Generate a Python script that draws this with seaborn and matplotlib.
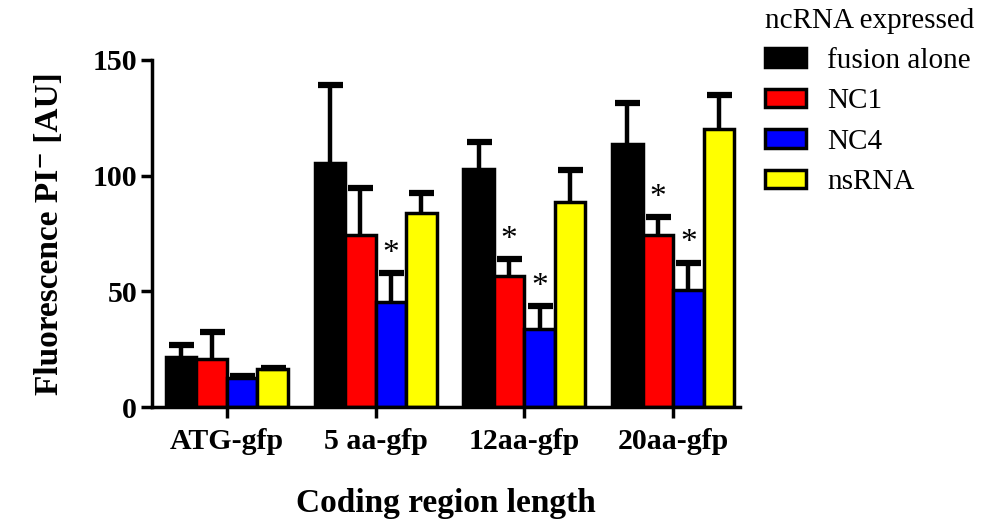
import numpy as np
import pandas as pd
import matplotlib
matplotlib.use("Agg")
import matplotlib.pyplot as plt
import seaborn as sns

# Coding region constructs and the ncRNA co-expressed with each fusion
groups = ["ATG-gfp", "5 aa-gfp", "12aa-gfp", "20aa-gfp"]
rnas = ["fusion alone", "NC1", "NC4", "nsRNA"]
colors = ["#000000", "#ff0000", "#0000ff", "#ffff00"]

# Mean fluorescence per construct (rows follow rnas, columns follow groups)
fusion_alone = [21.7, 105.3, 102.9, 113.7]
nc1 = [20.6, 74.3, 56.6, 74.3]
nc4 = [12.4, 45.5, 33.7, 50.8]
nsrna = [16.4, 83.7, 88.5, 120.0]

# Upper error (SD) for each bar
fusion_alone_err = [5.1, 33.8, 11.8, 17.5]
nc1_err = [11.7, 20.2, 7.4, 7.9]
nc4_err = [0.9, 12.5, 10.1, 11.6]
nsrna_err = [0.6, 8.6, 13.9, 14.8]

# Significance marks (True -> asterisk over the bar)
fusion_alone_sig = [False, False, False, False]
nc1_sig = [False, False, True, True]
nc4_sig = [False, True, True, True]
nsrna_sig = [False, False, False, False]

means = [fusion_alone, nc1, nc4, nsrna]
errs = [fusion_alone_err, nc1_err, nc4_err, nsrna_err]
sigs = [fusion_alone_sig, nc1_sig, nc4_sig, nsrna_sig]

rows = []
for r, vals in zip(rnas, means):
    for g, v in zip(groups, vals):
        rows.append({"group": g, "rna": r, "value": v})
df = pd.DataFrame(rows)

sns.set_style("white")
plt.rcParams["font.family"] = ["Liberation Serif", "DejaVu Serif"]
plt.rcParams["text.color"] = "black"
plt.rcParams["axes.labelcolor"] = "black"
plt.rcParams["xtick.color"] = "black"
plt.rcParams["ytick.color"] = "black"

fig = plt.figure(figsize=(9.83, 5.2), dpi=100)
ax = fig.add_axes([0.155, 0.217, 0.598, 0.668])

sns.barplot(data=df, x="group", y="value", hue="rna", order=groups,
            hue_order=rnas, palette=colors, errorbar=None, width=0.82,
            edgecolor="black", linewidth=2.5, saturation=1, ax=ax)

for container, err, sig in zip(ax.containers, errs, sigs):
    for patch, e, s in zip(container.patches, err, sig):
        xc = patch.get_x() + patch.get_width() / 2
        h = patch.get_height()
        _, caps, _ = ax.errorbar(xc, h, yerr=[[0], [e]], fmt="none",
                                 ecolor="black", elinewidth=3.2, capsize=9,
                                 capthick=4.5, zorder=1)
        # keep only the upper cap
        for c in caps:
            if np.allclose(c.get_ydata(), h):
                c.set_visible(False)
        if s:
            ax.text(xc, h + e + 1.8, "*", ha="center", va="bottom",
                    fontsize=24, color="black")

ax.set_ylim(0, 150)
ax.set_xlim(-0.5, 3.45)
ax.set_yticks([0, 50, 100, 150])
for side in ["top", "right"]:
    ax.spines[side].set_visible(False)
for side in ["left", "bottom"]:
    ax.spines[side].set_linewidth(2.5)
    ax.spines[side].set_color("black")
ax.tick_params(axis="both", direction="out", length=8, width=2.5,
               color="black", labelsize=21.5)
ax.tick_params(axis="y", left=True, pad=3)
ax.tick_params(axis="x", bottom=True, pad=7)
for lbl in ax.get_xticklabels() + ax.get_yticklabels():
    lbl.set_fontweight("bold")

ax.set_xlabel("Coding region length", fontsize=24, fontweight="bold", labelpad=24)
ax.set_ylabel("Fluorescence PI\u207b [AU]", fontsize=24, fontweight="bold", labelpad=20)

handles, labels = ax.get_legend_handles_labels()
leg = ax.legend(handles, labels, title="ncRNA expressed", frameon=False,
                loc="upper left", bbox_to_anchor=(0.778, 0.985),
                bbox_transform=fig.transFigure, fontsize=21, title_fontsize=21,
                handlelength=1.4, handleheight=0.6, labelspacing=0.5,
                handletextpad=0.75, borderaxespad=0, borderpad=0,
                alignment="left")
leg._legend_box.sep = 10
for h in leg.legend_handles:
    h.set_edgecolor("black")
    h.set_linewidth(2.5)

fig.savefig("out.png", dpi=100)
